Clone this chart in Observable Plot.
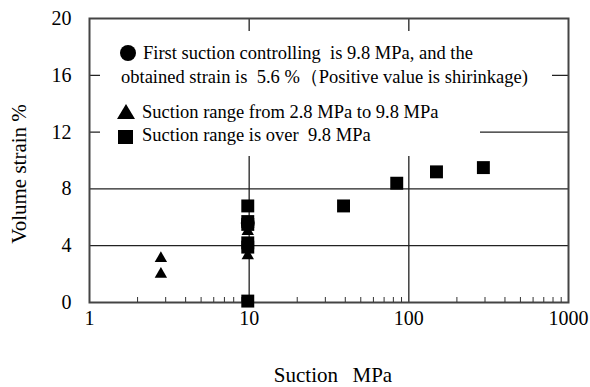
<!DOCTYPE html>
<html>
<head>
<meta charset="utf-8">
<style>
  html, body { margin: 0; padding: 0; background: #fff; }
  #wrap { position: relative; width: 590px; height: 387px; font-family: 'Liberation Serif', serif; color: #000; }
  #wrap svg { font-family: 'Liberation Serif', serif; }
  .box { position: absolute; background: #fff; font-size: 18.5px; line-height: 25px; z-index: 2; }
  .box .t { position: absolute; white-space: pre; }
  .mk { position: absolute; background: #000; }
  .title { position: absolute; width: 0; height: 0; z-index: 2; }
  .title span { position: absolute; left: 0; top: 0; white-space: pre; font-size: 21px; line-height: 21px; }
</style>
<script src="https://cdn.jsdelivr.net/npm/d3@7"></script>
<script src="https://cdn.jsdelivr.net/npm/@observablehq/plot@0.6"></script>
</head>
<body>
<div id="wrap">
  <div class="box" style="left:100px;top:31px;width:452px;height:60px">
    <div class="mk" style="left:20px;top:14px;width:16px;height:16px;border-radius:50%"></div>
    <div class="t" style="left:43px;top:10px">First suction controlling  is 9.8 MPa, and the</div>
    <div class="t" style="left:21px;top:34px">obtained strain is  5.6 %（Positive value is shirinkage)</div>
  </div>
  <div class="box" style="left:100px;top:91px;width:380px;height:65px">
    <div class="mk" style="left:17px;top:13px;width:18px;height:15px;clip-path:polygon(50% 0,100% 100%,0 100%)"></div>
    <div class="t" style="left:42px;top:9px">Suction range from 2.8 MPa to 9.8 MPa</div>
    <div class="mk" style="left:18px;top:39px;width:15px;height:14px"></div>
    <div class="t" style="left:42px;top:32px">Suction range is over  9.8 MPa</div>
  </div>
  <div class="title" style="left:19px;top:174px"><span style="transform:translate(-50%,-50%) rotate(-90deg)">Volume strain %</span></div>
  <div class="title" style="left:333px;top:375px"><span style="transform:translate(-50%,-50%);word-spacing:2px">Suction  MPa</span></div>
</div>
<script>
// Data
const circleSuction = [9.8];
const circleStrain = [5.6];
const triSuction = [2.8, 2.8, 9.8, 9.8];
const triStrain = [3.1, 2.0, 5.0, 3.3];
const sqSuction = [9.8, 9.8, 9.8, 9.8, 9.8, 9.8, 39, 84, 149, 293];
const sqStrain = [6.8, 5.7, 5.5, 4.2, 3.9, 0.1, 6.8, 8.4, 9.2, 9.5];
const xTicks = [1, 10, 100, 1000];
const yTicks = [0, 4, 8, 12, 16, 20];
const xGrid = [10, 100];
const yGrid = [4, 8, 12, 16];
const minorX = [2,3,4,5,6,7,8,9,20,30,40,50,60,70,80,90,200,300,400,500,600,700,800,900];

const circles = circleSuction.map((s, i) => ({s, v: circleStrain[i]}));
const tris = triSuction.map((s, i) => ({s, v: triStrain[i]}));
const sqs = sqSuction.map((s, i) => ({s, v: sqStrain[i]}));

const chart = Plot.plot({
  width: 590,
  height: 387,
  marginLeft: 89,
  marginRight: 22,
  marginTop: 18,
  marginBottom: 85,
  x: {type: "log", domain: [1, 1000]},
  y: {domain: [0, 20]},
  style: {fontFamily: "'Liberation Serif', serif", fontSize: "20px", color: "#000", background: "#fff"},
  marks: [
    Plot.ruleY(yGrid, {stroke: "#222", strokeWidth: 1.3}),
    Plot.ruleX(xGrid, {stroke: "#222", strokeWidth: 1.3}),
    Plot.frame({stroke: "#444", strokeWidth: 2}),
    Plot.axisX({ticks: minorX, tickSize: -5, text: null, label: null, stroke: "#333"}),
    Plot.axisX({ticks: xTicks, tickSize: 0, tickPadding: 8, tickFormat: d => String(d), label: null}),
    Plot.axisY({ticks: yTicks, tickSize: 0, tickPadding: 18, label: null}),
    Plot.dot(circles, {x: "s", y: "v", symbol: "circle", r: 7, fill: "#000", stroke: null}),
    Plot.dot(tris, {x: "s", y: "v", symbol: "triangle", r: 4.6, fill: "#000", stroke: null}),
    Plot.dot(sqs, {x: "s", y: "v", symbol: "square", r: 7.3, fill: "#000", stroke: null})
  ]
});
const wrap = document.getElementById("wrap");
wrap.insertBefore(chart, wrap.firstChild);
</script>
</body>
</html>
